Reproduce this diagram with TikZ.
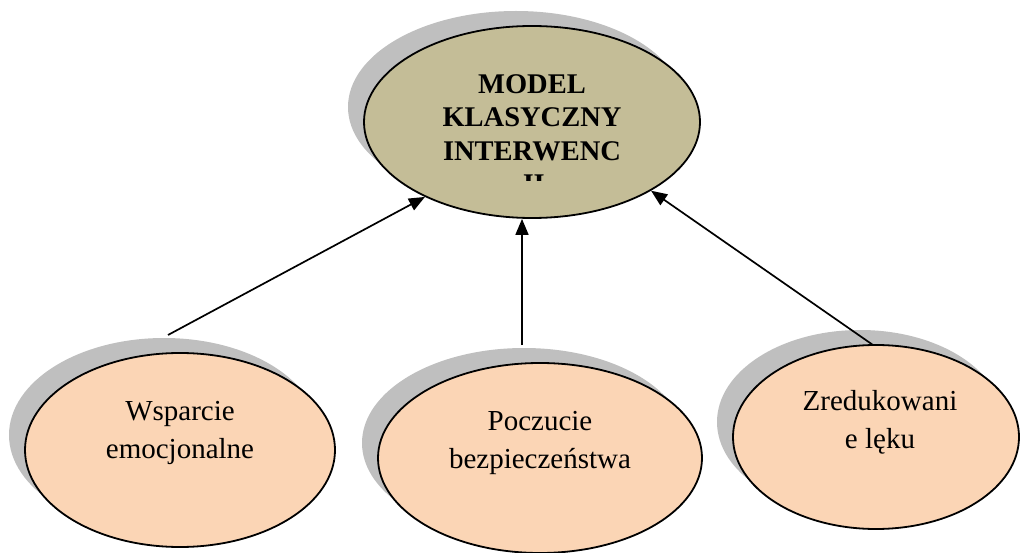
\documentclass[tikz,border=0pt]{standalone}
\usepackage{fontspec}
\setmainfont{Liberation Serif}
\usetikzlibrary{arrows.meta,shapes.geometric,shadows}
\definecolor{khaki}{HTML}{C4BD97}
\definecolor{peach}{HTML}{FBD5B5}
\definecolor{shade}{HTML}{BFBFBF}
\tikzset{
  oval/.style={ellipse, draw=black, line width=1.8pt, inner sep=0pt,
               drop shadow={fill=shade, opacity=1, shadow xshift=-16pt, shadow yshift=15pt}},
  topoval/.style={oval, fill=khaki, minimum width=336pt, minimum height=192pt},
  bottomoval/.style={oval, fill=peach},
  toptext/.style={align=center, font=\bfseries\fontsize{28.5}{33.5}\selectfont, inner sep=0pt, anchor=base},
  ovaltext/.style={align=center, font=\fontsize{29}{38}\selectfont, inner sep=0pt, anchor=base},
  fwd/.style={-{Triangle[length=16pt,width=13pt]}, line width=1.7pt},
}
\begin{document}
\begin{tikzpicture}[x=1pt,y=-1pt]
  \useasboundingbox (0,0) rectangle (1020,553);
  \node[topoval] (klas) at (532,122) {};
  \node[bottomoval, minimum width=310pt, minimum height=194pt] (wsp) at (180,450) {};
  \node[bottomoval, minimum width=324pt, minimum height=190pt] (pocz) at (540,458) {};
  \node[bottomoval, minimum width=286pt, minimum height=184pt] (zred) at (876,437) {};

  \begin{scope}
    \clip (300,0) rectangle (760,181); % last line is cut off
    \node[toptext] (klaslab) at (532,194) {MODEL\\KLASYCZNY\\INTERWENC\\JI};
  \end{scope}
  \node[ovaltext] (wsplab) at (180,458) {Wsparcie\\emocjonalne};
  \node[ovaltext] (poczlab) at (540,468) {Poczucie\\bezpieczeństwa};
  \node[ovaltext] (zredlab) at (880,448) {Zredukowani\\e lęku};

  \coordinate (wspend) at (168,335);
  \coordinate (poczend) at (522,345);
  \coordinate (zredend) at (873,345);
  \draw[fwd] (wspend) -- (klas.215);
  \draw[fwd] (poczend) -- (poczend |- klas.south);
  \draw[fwd] (zredend) -- (klas.330);
\end{tikzpicture}
\end{document}
